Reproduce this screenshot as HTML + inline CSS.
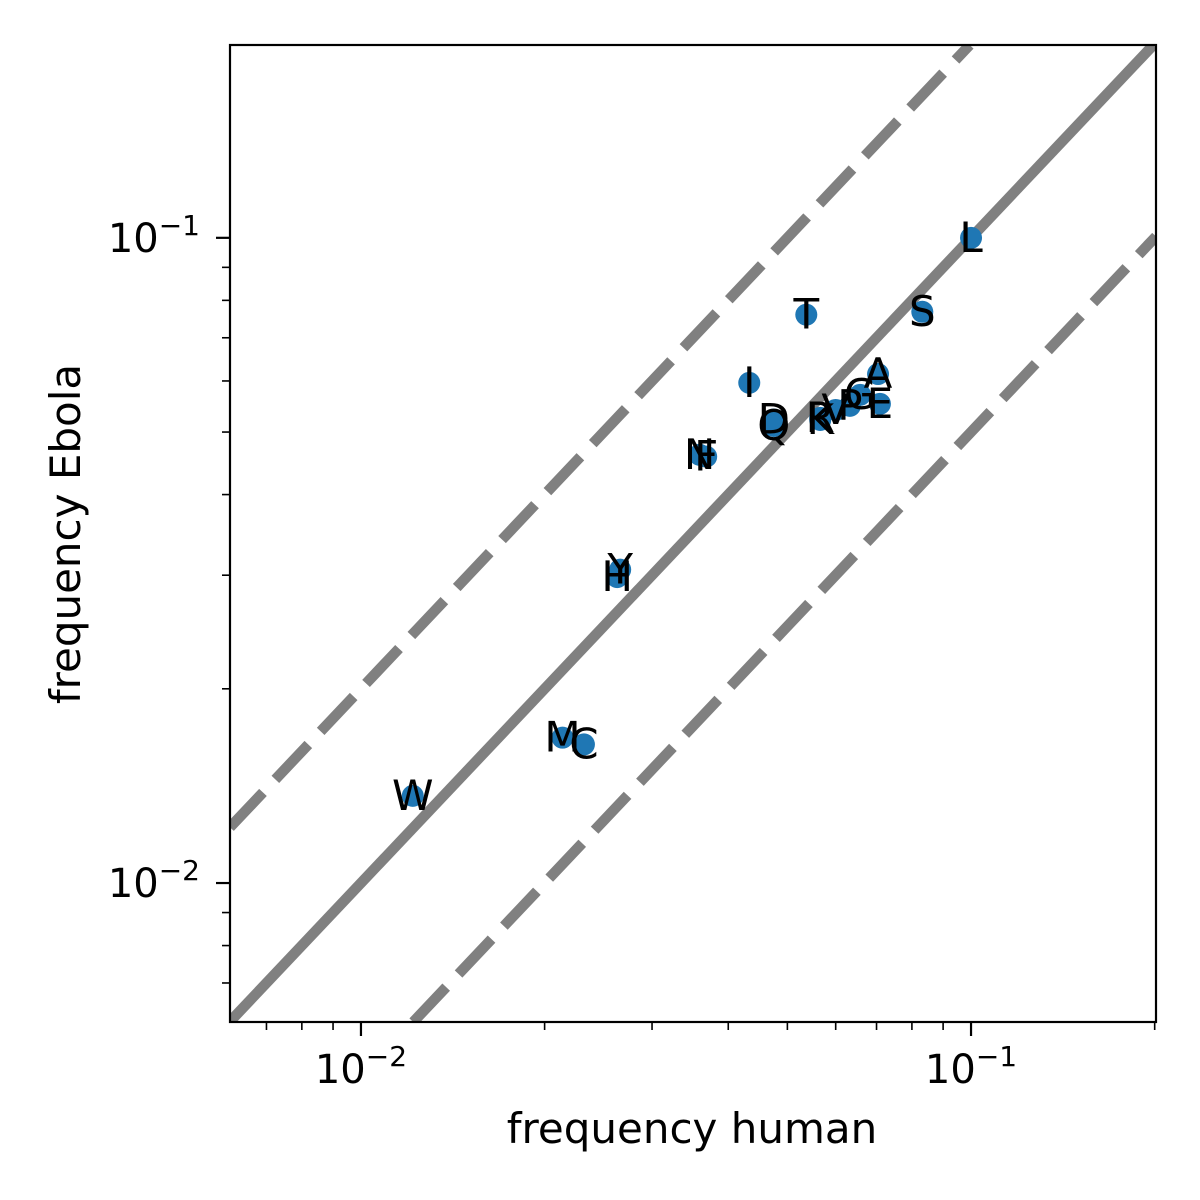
<!DOCTYPE html>
<html><head><meta charset="utf-8"><style>
html,body{margin:0;padding:0;background:#fff;width:1200px;height:1200px;overflow:hidden}
svg{display:block}
svg text{font-family:"DejaVu Sans","Liberation Sans",sans-serif}
</style></head><body>
<svg id="chart" width="1200" height="1200" viewBox="0 0 1200 1200" xmlns="http://www.w3.org/2000/svg">
<defs><clipPath id="clip"><rect x="230" y="45" width="926" height="977"/></clipPath></defs>
<g id="lines" clip-path="url(#clip)"></g>
<g id="pts" clip-path="url(#clip)"></g>
<g id="labels"></g>
<rect x="230" y="45" width="926" height="977" fill="none" stroke="#000" stroke-width="2.2"/>
<g id="axes"></g>
<text x="692" y="1143" font-size="42" text-anchor="middle">frequency human</text>
<text transform="translate(80,534) rotate(-90)" font-size="42" text-anchor="middle">frequency Ebola</text>
</svg>
<script>
const labels = ["L","S","T","A","E","G","P","V","R","K","D","Q","I","N","F","Y","H","M","C","W"];
const humanFreq = [0.100,0.0832,0.0537,0.0704,0.0709,0.0658,0.0633,0.0600,0.0566,0.0566,0.0475,0.0475,0.0433,0.0359,0.0368,0.0266,0.0263,0.0214,0.0232,0.01216];
const ebolaFreq = [0.100,0.0768,0.0760,0.0615,0.0553,0.0571,0.0549,0.0541,0.0526,0.0522,0.0523,0.0511,0.0596,0.0461,0.0458,0.0306,0.0298,0.0168,0.0164,0.01365];
const xMajor = [0.01,0.1];
const yMajor = [0.01,0.1];
const xMin = 0.0061, xMax = 0.201, yMin = 0.00609, yMax = 0.199;
const L=230,R=1156,T=45,B=1022;
const NS="http://www.w3.org/2000/svg";
function sx(v){return L+(Math.log10(v)-Math.log10(xMin))/(Math.log10(xMax)-Math.log10(xMin))*(R-L);}
function sy(v){return B-(Math.log10(v)-Math.log10(yMin))/(Math.log10(yMax)-Math.log10(yMin))*(B-T);}
function mk(tag,attrs,parent){const e=document.createElementNS(NS,tag);for(const k in attrs)e.setAttribute(k,attrs[k]);parent.appendChild(e);return e;}
const lines=document.getElementById('lines');
[[1,"none","line-identity"],[2,"48,18","line-upper-2x"],[0.5,"48,18","line-lower-half"]].forEach(f=>{
  const a=Math.max(xMin,yMin/f[0]),b=Math.min(xMax,yMax/f[0]);
  const el=mk('line',{x1:sx(a),y1:sy(a*f[0]),x2:sx(b),y2:sy(b*f[0]),stroke:'#808080','stroke-width':10.5,'stroke-dasharray':f[1]},lines);
  
  
});
const pts=document.getElementById('pts'),lab=document.getElementById('labels');
labels.forEach((l,i)=>{
  const c=mk('circle',{cx:sx(humanFreq[i]),cy:sy(ebolaFreq[i]),r:11,fill:'#1f77b4'},pts);
  
  
});
labels.forEach((l,i)=>{
  const t=mk('text',{x:sx(humanFreq[i]),y:sy(ebolaFreq[i])+14,'font-size':42,'text-anchor':'middle',fill:'#000'},lab);
  t.textContent=l;
  
  
});
const ax=document.getElementById('axes');
for(let d=-3;d<=-1;d++)for(let m=1;m<10;m++){
  const v=m*Math.pow(10,d);
  if(v>=xMin&&v<=xMax){const x=sx(v);const len=m===1?14:8;mk('line',{x1:x,y1:B,x2:x,y2:B+len,stroke:'#000','stroke-width':m===1?2.2:1.6},ax);}
  if(v>=yMin&&v<=yMax){const y=sy(v);const len=m===1?14:8;mk('line',{x1:L,y1:y,x2:L-len,y2:y,stroke:'#000','stroke-width':m===1?2.2:1.6},ax);}
}
function tickLabel(v){return '10<tspan dy="-17" font-size="28">\u2212'+(-Math.round(Math.log10(v)))+'</tspan>';}
xMajor.forEach(v=>{
  const t=mk('text',{x:sx(v),y:1083,'font-size':40,'text-anchor':'middle'},ax);
  t.innerHTML=tickLabel(v);
  
  
});
yMajor.forEach(v=>{
  const t=mk('text',{x:200,y:sy(v)+14,'font-size':40,'text-anchor':'end'},ax);
  t.innerHTML=tickLabel(v);
  
  
});
</script>
</body></html>
